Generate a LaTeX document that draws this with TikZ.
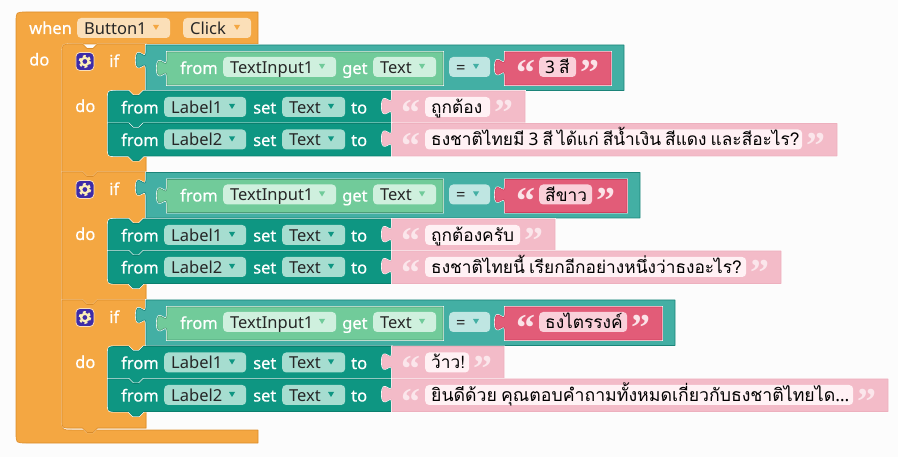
\documentclass[tikz,border=0pt]{standalone}
\usepackage{fontspec}
\usepackage{xcolor}
\setmainfont{Noto Sans}
\newfontfamily\whitefont{Noto Sans}[FakeBold=0.6]
\newfontfamily\thaifont[Script=Thai,WordSpace=0.7]{Loma}
\newfontfamily\quotefont{Liberation Serif}[BoldFont=Liberation Serif Bold]

\definecolor{pagebg}{HTML}{FCFCFC}
\definecolor{orangebody}{HTML}{F4A742}
\definecolor{orangeedge}{HTML}{D98B2B}
\definecolor{orangepale}{HTML}{FBDFB8}
\definecolor{tealbody}{HTML}{43AFA4}
\definecolor{tealedge}{HTML}{1B8479}
\definecolor{tealpale}{HTML}{BFE6E2}
\definecolor{greenbody}{HTML}{71CB9A}
\definecolor{greenedge}{HTML}{4C9D76}
\definecolor{greenpale}{HTML}{CFF0DE}
\definecolor{setterbody}{HTML}{0E9682}
\definecolor{setteredge}{HTML}{0A7F6E}
\definecolor{setterpale}{HTML}{A6DDD0}
\definecolor{redbody}{HTML}{E25C78}
\definecolor{rededge}{HTML}{CF3F5E}
\definecolor{redpale}{HTML}{FAD0DA}
\definecolor{redquote}{HTML}{FBE3E8}
\definecolor{pinkbody}{HTML}{F3BBC8}
\definecolor{pinkedge}{HTML}{EDB0BE}
\definecolor{pinkpale}{HTML}{FFF1F4}
\definecolor{pinkquote}{HTML}{FBE6EB}
\definecolor{gearbox}{HTML}{3D2BA8}
\definecolor{gearpale}{HTML}{FCF0B8}

\tikzset{
  block/.style={preaction={draw=white,line width=1.8pt},line width=.6pt,line join=round},
  ifblock/.style={preaction={draw=orangepale,line width=1.2pt},line width=.6pt,line join=round},
  word/.style={anchor=base west,inner sep=0pt,text=white,font=\whitefont\fontsize{16.5}{18}\selectfont},
  dark/.style={anchor=base west,inner sep=0pt,text=black!85,font=\fontsize{16.5}{18}\selectfont},
  thaiword/.style={anchor=base west,inner sep=0pt,text=black,font=\thaifont\fontsize{17.3}{18}\selectfont},
  pillbox/.style={anchor=west,inner sep=0pt,minimum height=20pt,rounded corners=4pt},
  quotemark/.style={anchor=base,inner sep=0pt,font=\quotefont\bfseries\fontsize{38}{38}\selectfont},
}

\newcommand{\notchpath}{-- ++(2.5,0) -- ++(4.5,4.5) -- ++(6,0) -- ++(4.5,-4.5) -- ++(2.5,0)}
\newcommand{\tabpath}{-- ++(-2.5,0) -- ++(-4.5,4.5) -- ++(-6,0) -- ++(-4.5,-4.5) -- ++(-2.5,0)}
\newcommand{\sidetab}[2]{-- (#1,#2) .. controls (#1,#2+11) and (#1-10,#2-9) .. (#1-10,#2+8.25)
  .. controls (#1-10,#2+25) and (#1,#2+5.5) .. (#1,#2+16.5)}
\newcommand{\dropdown}[7]{
  \node[pillbox,fill=#2,minimum width=#4-#3] (#1) at (#3,#5) {};
  \node[dark] (#1Text) at (#3+7,#5+6.5) {#6};
  \fill[#7] (#4-17,#5-3) -- (#4-11,#5-3) -- (#4-14,#5+2) -- cycle;
}
\newcommand{\ifrow}[4]{
  \begin{scope}[yshift=-#2]
    \draw[ifblock,fill=orangebody,draw=orangeedge] (62,#3) .. controls (62,0) .. (62+#3,0) -- (80,0) \notchpath
      -- (146,0) -- (146,128) -- (100,128) \tabpath -- (62+#4,128) .. controls (62,128) .. (62,128-#4) -- cycle;
    \node[pillbox,fill=gearbox,draw=orangepale,line width=.8pt,minimum width=18pt,minimum height=18pt] (Gear#1) at (75.5,17.5) {};
    \draw[gearpale,line width=2.2pt] (Gear#1) circle[radius=3.7];
    \draw[gearpale,line width=2pt,dash pattern=on 2.9pt off 2.9pt] (Gear#1) circle[radius=5.5];
    \node[word] (If#1) at (109,23) {if};
    \node[word] (Do#1) at (75,68) {do};
  \end{scope}
}
\newcommand{\getrow}[4]{
  \begin{scope}[yshift=-#2]
    \draw[block,fill=tealbody,draw=tealedge] (146,0) \sidetab{146}{7} -- (146,45.5) -- (#3+13,45.5) -- (#3+13,0) -- cycle;
    \draw[block,fill=greenbody,draw=greenedge] (167,7) \sidetab{167}{15} -- (167,40) -- (443,40) -- (443,7) -- cycle;
    \node[word] (From#1) at (180,29) {from};
    \dropdown{Input#1}{greenpale}{223}{336}{22}{TextInput1}{greenbody}
    \node[word] (Get#1) at (342,29) {get};
    \dropdown{Prop#1}{greenpale}{373}{436}{22}{Text}{greenbody}
    \dropdown{Eq#1}{tealpale}{449}{490}{22}{=}{tealbody}
    \draw[block,fill=redbody,draw=rededge] (505,7) \sidetab{505}{14} -- (505,40) -- (#3,40) -- (#3,7) -- cycle;
    \node[quotemark,text=redquote] (Open#1) at (525.5,41) {“};
    \node[pillbox,fill=redpale,minimum width=#3-35-539] (Value#1) at (539,22) {};
    \node[thaiword] (ValueText#1) at (545,29) {#4};
    \node[quotemark,text=redquote] (Close#1) at (#3-21.5,41) {”};
  \end{scope}
}
\newcommand{\setrow}[7]{
  \begin{scope}[yshift=-#2]
    \draw[block,fill=setterbody,draw=setteredge] (108,#3) .. controls (108,0) .. (108+#3,0) -- (126,0) \notchpath
      -- (392,0) -- (392,32.5) -- (146,32.5) \tabpath -- (108+#4,32.5) .. controls (108,32.5) .. (108,32.5-#4) -- cycle;
    \node[word] (Set#1) at (121,22.5) {from};
    \dropdown{Label#1}{setterpale}{164}{246}{16}{#5}{setterbody}
    \node[word] (SetWord#1) at (253,22.5) {set};
    \dropdown{Attr#1}{setterpale}{282}{345}{16}{Text}{setterbody}
    \node[word] (To#1) at (351,22.5) {to};
    \draw[block,fill=pinkbody,draw=pinkedge] (392,0) \sidetab{392}{7} -- (392,32.5) -- (#6,32.5) -- (#6,0) -- cycle;
    \node[quotemark,text=pinkquote] (Left#1) at (411,35) {“};
    \node[pillbox,fill=pinkpale,minimum width=#6-35-425] (Str#1) at (425,16) {};
    \node[thaiword] (StrText#1) at (431,22.5) {#7};
    \node[quotemark,text=pinkquote] (Right#1) at (#6-21.5,35) {”};
  \end{scope}
}

\begin{document}
\begin{tikzpicture}[x=1pt,y=-1pt]
  \path[fill=pagebg,use as bounding box] (0,0) rectangle (898,457);

  \draw[block,fill=orangebody,draw=orangeedge] (16,22) .. controls (16,12) .. (26,12) -- (258,12) -- (258,44) -- (72,44)
    .. controls (62,44) .. (62,54) -- (62,420) .. controls (62,430) .. (72,430) -- (258,430) -- (258,443)
    -- (26,443) .. controls (16,443) .. (16,433) -- cycle;
  \node[word] (When) at (29,34) {when};
  \dropdown{Button}{orangepale}{77}{170}{28}{Button1}{orangebody}
  \dropdown{Click}{orangepale}{183}{251}{28}{Click}{orangebody}
  \node[word] (DoOuter) at (29,65.5) {do};

  \ifrow{A}{44}{10}{0}
  \ifrow{B}{172}{0}{0}
  \ifrow{C}{300}{0}{8}

  \getrow{A}{45}{611}{{\rmfamily 3} สี}
  \getrow{B}{172.5}{627}{สีขาว}
  \getrow{C}{300}{662}{ธงไตรรงค์}

  \setrow{A1}{91}{8}{0}{Label1}{525}{ถูกต้อง}
  \setrow{A2}{123.5}{0}{8}{Label2}{837}{ธงชาติไทยมี {\rmfamily 3} สี ได้แก่ สีน้ำเงิน สีแดง และสีอะไร?}
  \setrow{B1}{219}{8}{0}{Label1}{555}{ถูกต้องครับ}
  \setrow{B2}{251}{0}{8}{Label2}{781}{ธงชาติไทยนี้ เรียกอีกอย่างหนึ่งว่าธงอะไร?}
  \setrow{C1}{346.5}{8}{0}{Label1}{504}{ว้าว!}
  \setrow{C2}{379}{0}{8}{Label2}{888}{\fontsize{17.7}{18}\selectfont ยินดีด้วย คุณตอบคำถามทั้งหมดเกี่ยวกับธงชาติไทยได{\rmfamily …}}
\end{tikzpicture}
\end{document}
